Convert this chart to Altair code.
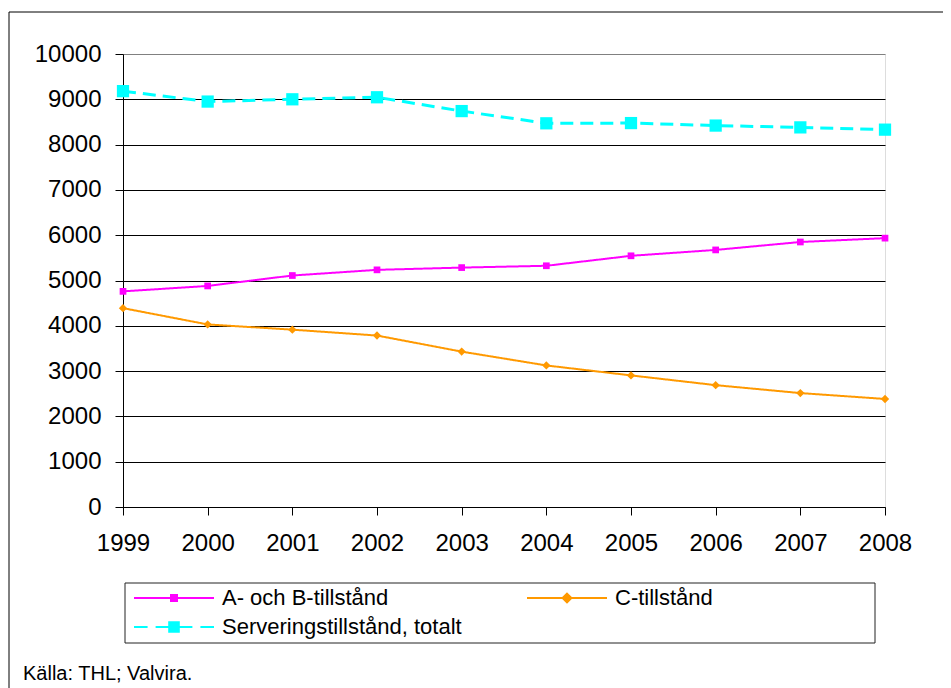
import altair as alt
import pandas as pd

# ---- data ----
years = [1999, 2000, 2001, 2002, 2003, 2004, 2005, 2006, 2007, 2008]
series_names = ["A- och B-tillstånd", "C-tillstånd", "Serveringstillstånd, totalt"]
ab_values = [4760, 4880, 5110, 5235, 5285, 5325, 5545, 5675, 5850, 5935]
c_values = [4390, 4030, 3915, 3785, 3430, 3125, 2905, 2690, 2515, 2385]
total_values = [9180, 8950, 9000, 9045, 8740, 8470, 8475, 8420, 8380, 8330]
y_ticks = list(range(0, 10001, 1000))
source_note = "Källa: THL; Valvira."

# ---- styles ----
FONT = "Liberation Sans"
series_colors = ["#FF00FF", "#FF9900", "#00FFFF"]
line_widths = [2, 2, 3]
line_dashes = [[1, 0], [1, 0], [13, 7]]
marker_shapes = ["square", "diamond", "square"]
marker_sizes = [45, 70, 150]
legend_symbols = [
    "M-1,0H1M-0.075,-0.075H0.075V0.075H-0.075Z",
    "M-1,0H1M0,-0.11L0.11,0L0,0.11L-0.11,0Z",
    "M-1,0H-0.66M-0.46,0H-0.1M0.1,0H0.46M0.66,0H1M-0.12,-0.12H0.12V0.12H-0.12Z",
]

rows = []
for name, vals in zip(series_names, [ab_values, c_values, total_values]):
    for yr, v in zip(years, vals):
        rows.append({"year": yr, "value": v, "series": name})
df = pd.DataFrame(rows)

W, H = 762, 453

x_enc = alt.X(
    "year:Q",
    scale=alt.Scale(domain=[years[0], years[-1]], nice=False, zero=False),
    axis=alt.Axis(
        values=years, format="d", title=None, grid=False, tickSize=8,
        labelFontSize=24, labelFont=FONT, labelColor="black", labelPadding=16,
        labelFlush=False, labelOverlap=False, domainColor="black", tickColor="black",
    ),
)
y_enc = alt.Y(
    "value:Q",
    scale=alt.Scale(domain=[0, 10000], nice=False),
    axis=alt.Axis(
        values=y_ticks, format="d", title=None, tickSize=8,
        labelFontSize=24, labelFont=FONT, labelColor="black", labelPadding=14,
        domainColor="black", tickColor="black",
        gridColor={"condition": {"test": "datum.value === 10000", "value": "#808080"}, "value": "#000000"},
        gridWidth=1,
    ),
)

series_layers = []
for i, name in enumerate(series_names):
    base = alt.Chart(df).transform_filter(alt.datum.series == name)
    series_layers.append(
        base.mark_line(color=series_colors[i], strokeWidth=line_widths[i], strokeDash=line_dashes[i]).encode(x=x_enc, y=y_enc)
    )
for i, name in enumerate(series_names):
    base = alt.Chart(df).transform_filter(alt.datum.series == name)
    series_layers.append(
        base.mark_point(filled=True, opacity=1, shape=marker_shapes[i], size=marker_sizes[i],
                        color=series_colors[i]).encode(x=x_enc, y=y_enc)
    )

leg = alt.Legend(
    title=None, orient="none", legendX=10, legendY=533, columns=2, columnPadding=64,
    direction="horizontal",
    rowPadding=7, clipHeight=22, labelFontSize=22, labelFont=FONT, labelColor="black",
    labelOffset=7, labelLimit=500, symbolSize=6400, symbolOpacity=1, padding=0,
)

legend_layer = alt.Chart(df).mark_point(filled=False, opacity=0).encode(
    x=x_enc,
    y=y_enc,
    fill=alt.Fill("series:N", scale=alt.Scale(domain=series_names, range=series_colors), legend=leg),
    stroke=alt.Stroke("series:N", scale=alt.Scale(domain=series_names, range=series_colors), legend=leg),
    shape=alt.Shape("series:N", scale=alt.Scale(domain=series_names, range=legend_symbols), legend=leg),
    strokeWidth=alt.StrokeWidth("series:N", scale=alt.Scale(domain=series_names, range=line_widths), legend=leg),
)

one = alt.Data(values=[{"k": 0}])

frame = alt.Chart(one).mark_rect(fillOpacity=0, stroke="black", strokeWidth=1).encode(
    x=alt.value(-114), x2=alt.value(900), y=alt.value(-42), y2=alt.value(700)
)
legend_box = alt.Chart(one).mark_rect(fillOpacity=0, stroke="#222222", strokeWidth=1).encode(
    x=alt.value(2), x2=alt.value(752), y=alt.value(529), y2=alt.value(589)
)
note = alt.Chart(one).mark_text(
    align="left", baseline="alphabetic", fontSize=20, font=FONT, color="black"
).encode(x=alt.value(-100), y=alt.value(626), text=alt.value(source_note))

chart = alt.layer(frame, legend_box, note, *series_layers, legend_layer).properties(
    width=W, height=H,
    autosize=alt.AutoSizeParams(type="none"),
    padding={"left": 115, "top": 46, "right": 58, "bottom": 181},
).configure_view(stroke="#808080", strokeWidth=1).configure(background="white")

chart.save("out.html", embed_options={"renderer": "svg", "actions": False})
